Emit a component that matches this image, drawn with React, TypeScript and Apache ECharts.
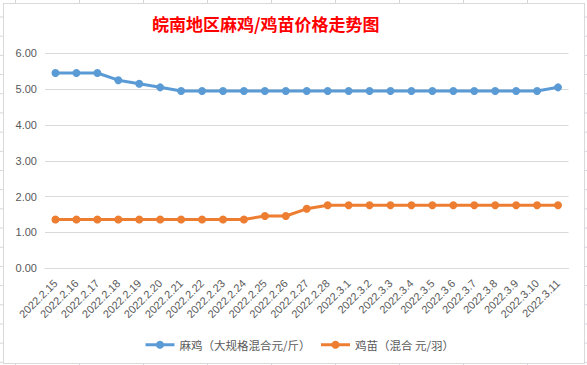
import React, { useEffect, useRef } from "react";
import * as echarts from "echarts";

const categories = [
  "2022.2.15", "2022.2.16", "2022.2.17", "2022.2.18", "2022.2.19", "2022.2.20", "2022.2.21",
  "2022.2.22", "2022.2.23", "2022.2.24", "2022.2.25", "2022.2.26", "2022.2.27", "2022.2.28",
  "2022.3.1", "2022.3.2", "2022.3.3", "2022.3.4", "2022.3.5", "2022.3.6", "2022.3.7",
  "2022.3.8", "2022.3.9", "2022.3.10", "2022.3.11",
];

const majiValues = [
  5.45, 5.45, 5.45, 5.25, 5.15, 5.05, 4.95, 4.95, 4.95, 4.95, 4.95, 4.95, 4.95, 4.95,
  4.95, 4.95, 4.95, 4.95, 4.95, 4.95, 4.95, 4.95, 4.95, 4.95, 5.05,
];

const jimiaoValues = [
  1.36, 1.36, 1.36, 1.36, 1.36, 1.36, 1.36, 1.36, 1.36, 1.36, 1.46, 1.46, 1.66, 1.76,
  1.76, 1.76, 1.76, 1.76, 1.76, 1.76, 1.76, 1.76, 1.76, 1.76, 1.76,
];

const seriesNames = ["麻鸡（大规格混合元/斤）", "鸡苗（混合 元/羽）"];
const titleText = "皖南地区麻鸡/鸡苗价格走势图";

const FONT = "'Noto Sans CJK SC', 'Noto Sans', sans-serif";

export default function App() {
  const ref = useRef<HTMLDivElement>(null);

  useEffect(() => {
    if (!ref.current) return;
    const chart = echarts.init(ref.current, undefined, { renderer: "svg" });
    chart.setOption({
      animation: false,
      backgroundColor: "transparent",
      textStyle: { fontFamily: FONT },
      title: {
        text: titleText,
        left: 147,
        top: 10,
        textStyle: { color: "#FF0000", fontSize: 17, fontWeight: "bold", fontFamily: FONT },
      },
      legend: {
        left: 139,
        top: 334,
        itemWidth: 29,
        itemHeight: 10,
        itemGap: 9,
        lineStyle: { width: 3 },
        textStyle: { color: "#595959", fontSize: 11.5, fontFamily: FONT },
        data: seriesNames,
      },
      grid: { left: 45, right: 18.5, top: 53.3, bottom: 96.7, containLabel: false },
      xAxis: {
        type: "category",
        data: categories,
        boundaryGap: true,
        axisLine: { show: true, lineStyle: { color: "#D9D9D9", width: 1 } },
        axisTick: { show: false },
        axisLabel: {
          interval: 0,
          rotate: 45,
          margin: 13,
          color: "#595959",
          fontSize: 11,
          fontFamily: "'Liberation Sans', 'DejaVu Sans', sans-serif",
        },
      },
      yAxis: {
        type: "value",
        min: 0,
        max: 6,
        interval: 1,
        axisLine: { show: false },
        axisTick: { show: false },
        splitLine: { lineStyle: { color: "#D9D9D9", width: 1 } },
        axisLabel: {
          margin: 8,
          color: "#595959",
          fontSize: 11,
          fontFamily: "'Liberation Sans', 'DejaVu Sans', sans-serif",
          formatter: (v: number) => v.toFixed(2),
        },
      },
      series: [
        {
          name: seriesNames[0],
          type: "line",
          data: majiValues,
          symbol: "circle",
          symbolSize: 8,
          itemStyle: { color: "#5B9BD5" },
          lineStyle: { color: "#5B9BD5", width: 3 },
        },
        {
          name: seriesNames[1],
          type: "line",
          data: jimiaoValues,
          symbol: "circle",
          symbolSize: 8,
          itemStyle: { color: "#ED7D31" },
          lineStyle: { color: "#ED7D31", width: 3 },
        },
      ],
    });
    return () => chart.dispose();
  }, []);

  return (
    <div
      style={{
        position: "fixed",
        left: 0,
        top: 0,
        width: 587,
        height: 365,
        backgroundColor: "#FFFFFF",
        backgroundImage:
          "linear-gradient(to right, #D4D4DC 1px, transparent 1px), linear-gradient(to bottom, #D4D4DC 1px, transparent 1px)",
        backgroundSize: "64px 19.2px",
        backgroundPosition: "15px 16.5px",
        overflow: "hidden",
      }}
    >
      <div
        style={{
          position: "absolute",
          left: 3,
          top: 3,
          width: 582,
          height: 361,
          boxSizing: "border-box",
          border: "1px solid #D9D9D9",
          background: "#FFFFFF",
        }}
      />
      <div ref={ref} style={{ position: "absolute", left: 0, top: 0, width: 587, height: 365 }} />
    </div>
  );
}
